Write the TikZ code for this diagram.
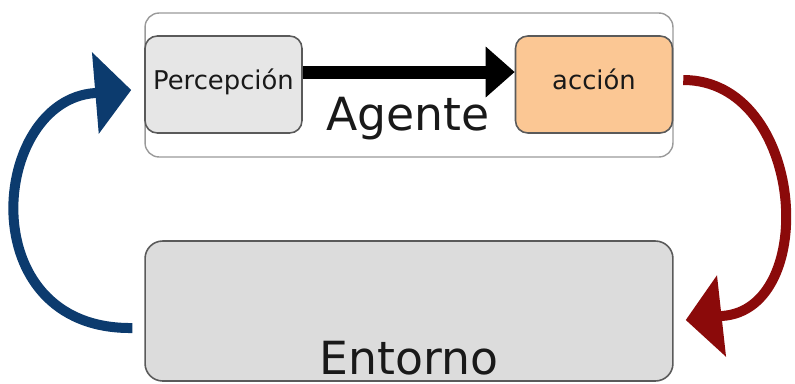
\documentclass[tikz,border=0pt]{standalone}
\usepackage{fontspec}
\setmainfont{DejaVu Sans}
\usetikzlibrary{arrows.meta}

\definecolor{agentgray}{HTML}{9A9A9A}
\definecolor{boxgray}{HTML}{5A5A5A}
\definecolor{percfill}{HTML}{E6E6E6}
\definecolor{accfill}{HTML}{FBC794}
\definecolor{entfill}{HTML}{DCDCDC}
\definecolor{loopblue}{HTML}{0C3B6E}
\definecolor{loopred}{HTML}{8B0A0A}

\begin{document}
\begin{tikzpicture}[x=0.02cm,y=-0.02cm,
  agentbox/.style={draw=agentgray,line width=0.8pt,fill=white,rounded corners=8pt,
    minimum width=10.56cm,minimum height=2.88cm,inner sep=0pt},
  smallbox/.style={draw=boxgray,line width=0.9pt,rounded corners=7pt,
    minimum width=3.14cm,minimum height=1.94cm,inner sep=0pt},
  envbox/.style={draw=boxgray,line width=0.9pt,fill=entfill,rounded corners=10pt,
    minimum width=10.56cm,minimum height=2.8cm,inner sep=0pt},
  smalltext/.style={anchor=base,text=black!90,font=\fontsize{14.7}{17}\selectfont},
  bigtext/.style={anchor=base,text=black!90,font=\fontsize{26}{30}\selectfont},
  flowarrow/.style={line width=0.26cm,-{Triangle[length=0.58cm,width=0.98cm]}},
  looparrow/.style={line width=0.2cm,-{Triangle[length=0.72cm,width=1.6cm]}}]

\useasboundingbox (0,0) rectangle (795,383);

% agent
\node[agentbox] (agente) at (409,85) {};
\node[smallbox,fill=percfill] (perc) at (223.5,84.5) {};
\node[smallbox,fill=accfill] (acc) at (594,84.5) {};
\node[smalltext] (perclbl) at ([yshift=-0.09cm]perc.center) {Percepción};
\node[smalltext] (acclbl) at ([yshift=-0.09cm]acc.center) {acción};
\node[bigtext] (agentelbl) at (408,130) {Agente};

\draw[flowarrow] ([yshift=0.25cm]perc.east) -- ([yshift=0.25cm]acc.west);

% environment
\node[envbox] (ent) at (409,311) {};
\node[bigtext] (entlbl) at (409,374) {Entorno};

% loop arrows
\coordinate (btip) at ([xshift=-0.26cm,yshift=-0.11cm]perc.west);
\coordinate (rtip) at ([xshift=0.24cm,yshift=-0.18cm]ent.east);

\draw[looparrow,loopblue] ([xshift=-0.24cm,yshift=-0.34cm]ent.west)
  .. controls (-30,330) and (-10,100) .. ([xshift=-0.72cm,yshift=-0.06cm]btip) -- (btip);
\draw[looparrow,loopred] ([xshift=0.2cm,yshift=0.09cm]acc.east)
  .. controls (805,80) and (820,310) .. ([xshift=0.72cm,yshift=0.08cm]rtip) -- (rtip);

\end{tikzpicture}
\end{document}
